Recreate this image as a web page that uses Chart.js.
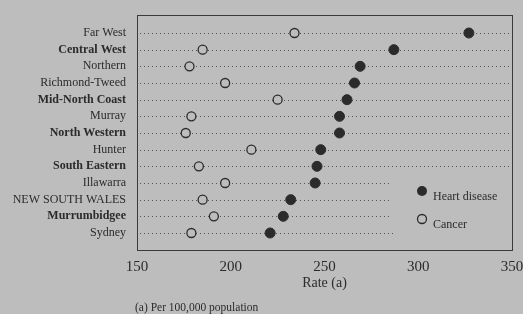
<!DOCTYPE html>
<html>
<head>
<meta charset="utf-8">
<script src="https://cdn.jsdelivr.net/npm/chart.js@4"></script>
<style>
  html, body { margin: 0; padding: 0; background: #bdbdbd; }
  #wrap { width: 523px; height: 314px; }
</style>
</head>
<body>
<div id="wrap"><canvas id="c" width="523" height="314"></canvas></div>
<script>
const regions = ["Far West", "Central West", "Northern", "Richmond-Tweed", "Mid-North Coast", "Murray",
  "North Western", "Hunter", "South Eastern", "Illawarra", "NEW SOUTH WALES", "Murrumbidgee", "Sydney"];
const heartDisease = [327, 287, 269, 266, 262, 258, 258, 248, 246, 245, 232, 228, 221];
const cancer = [234, 185, 178, 197, 225, 179, 176, 211, 183, 197, 185, 191, 179];
// where each dotted guide stops (rate units) - bottom rows stop short of the legend
const guideEnd = [350, 350, 350, 350, 350, 350, 350, 350, 350, 286, 286, 286, 288];
const xTicks = [150, 200, 250, 300, 350];
const boldRows = [1, 4, 6, 8, 11];

const INK = "#2b2b2b";
const BG = "#bdbdbd";
const SERIF = "'Liberation Serif', 'DejaVu Serif', serif";

const pts = vals => vals.map((v, i) => ({ x: v, y: i }));

const frame = {
  id: "frame",
  beforeDatasetsDraw(chart) {
    const { ctx, chartArea: a, scales: { x, y } } = chart;
    ctx.save();
    ctx.strokeStyle = "#555";
    ctx.lineWidth = 1;
    ctx.setLineDash([1, 3]);
    regions.forEach((_, i) => {
      const py = Math.round(y.getPixelForValue(i)) + 0.5;
      ctx.beginPath();
      ctx.moveTo(a.left + 3, py);
      ctx.lineTo(x.getPixelForValue(guideEnd[i]), py);
      ctx.stroke();
    });
    ctx.setLineDash([]);
    ctx.strokeStyle = "#3a3a3a";
    ctx.strokeRect(Math.round(a.left) + 0.5, Math.round(a.top) + 0.5, Math.round(a.right - a.left), Math.round(a.bottom - a.top));
    ctx.restore();
  },
  afterDraw(chart) {
    const { ctx } = chart;
    ctx.save();
    // legend
    ctx.fillStyle = INK;
    ctx.beginPath(); ctx.arc(422, 191, 5, 0, Math.PI * 2); ctx.fill();
    ctx.strokeStyle = INK; ctx.lineWidth = 1.3;
    ctx.beginPath(); ctx.arc(422, 219, 4.5, 0, Math.PI * 2); ctx.stroke();
    ctx.font = "12px " + SERIF;
    ctx.textBaseline = "middle";
    ctx.fillText("Heart disease", 433, 197);
    ctx.fillText("Cancer", 433, 225);
    // footnote
    ctx.font = "11.5px " + SERIF;
    ctx.fillText("(a) Per 100,000 population", 135, 308);
    ctx.restore();
  }
};

new Chart(document.getElementById("c"), {
  type: "scatter",
  data: {
    datasets: [
      {
        label: "Heart disease",
        data: pts(heartDisease),
        pointRadius: 5,
        pointHoverRadius: 5,
        backgroundColor: INK,
        borderColor: INK
      },
      {
        label: "Cancer",
        data: pts(cancer),
        pointRadius: 4.5,
        pointHoverRadius: 4.5,
        backgroundColor: BG,
        borderColor: INK,
        borderWidth: 1.3
      }
    ]
  },
  options: {
    responsive: false,
    animation: false,
    layout: { padding: { top: 15, right: 11, left: 0, bottom: 0 } },
    plugins: { legend: { display: false }, tooltip: { enabled: false } },
    scales: {
      x: {
        type: "linear",
        min: 150,
        max: 350,
        afterBuildTicks: s => { s.ticks = xTicks.map(v => ({ value: v })); },
        afterFit: s => { s.height = 64; s.paddingLeft = 0; s.paddingRight = 0; },
        grid: { display: false, drawTicks: false },
        border: { display: false },
        ticks: { color: INK, padding: 8, font: { family: SERIF, size: 15 } },
        title: {
          display: true,
          text: "Rate (a)",
          color: INK,
          font: { family: SERIF, size: 14 },
          padding: { top: 0, bottom: 22 }
        }
      },
      y: {
        type: "linear",
        reverse: true,
        min: -1.08,
        max: 13.02,
        afterBuildTicks: s => { s.ticks = regions.map((_, i) => ({ value: i })); },
        afterFit: s => { s.width = 137; s.paddingTop = 0; s.paddingBottom = 0; },
        grid: { display: false, drawTicks: false },
        border: { display: false },
        ticks: {
          color: INK,
          padding: 11,
          autoSkip: false,
          callback: v => regions[v],
          font: c => ({ family: SERIF, size: 12, weight: boldRows.includes(c.index) ? "bold" : "normal" })
        }
      }
    }
  },
  plugins: [frame]
});
</script>
</body>
</html>
